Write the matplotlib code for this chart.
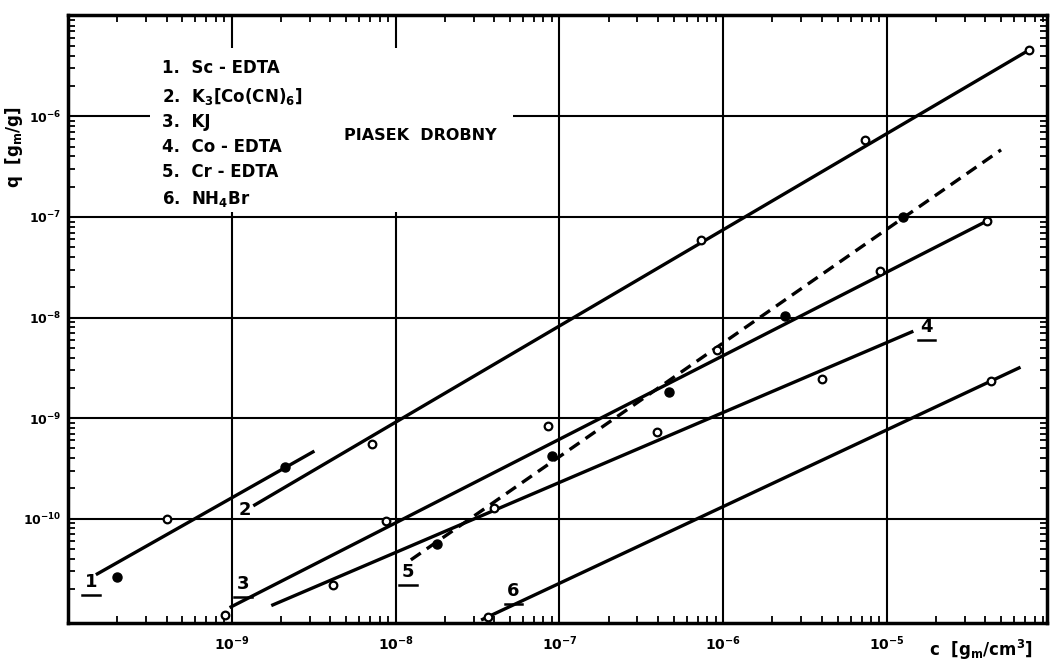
import matplotlib
matplotlib.use('Agg')
import matplotlib.pyplot as plt
from matplotlib.patches import Rectangle
from matplotlib.lines import Line2D

# fitted lines (end points), c in g/cm3, q in g/g
sc_line_c = [1.51e-10, 3.13e-9]
sc_line_q = [2.83e-11, 4.62e-10]
k3_line_c = [1.38e-9, 7.4e-5]
k3_line_q = [1.37e-10, 4.58e-6]
kj_line_c = [9.9e-10, 4.09e-5]
kj_line_q = [1.33e-11, 9.14e-8]
co_line_c = [1.78e-9, 1.42e-5]
co_line_q = [1.39e-11, 7.21e-9]
cr_line_c = [1.24e-8, 4.98e-5]
cr_line_q = [3.9e-11, 4.65e-7]
nh_line_c = [3.4e-8, 6.41e-5]
nh_line_q = [1.0e-11, 3.16e-9]

# measured points
sc_c_filled = [1.98e-10, 2.11e-9]
sc_q_filled = [2.65e-11, 3.28e-10]
sc_c_open = [4.0e-10]
sc_q_open = [1.0e-10]
k3_c = [7.18e-9, 7.28e-7, 7.33e-6, 7.4e-5]
k3_q = [5.55e-10, 5.92e-8, 5.83e-7, 4.58e-6]
kj_c = [9.06e-10, 8.75e-9, 8.57e-8, 9.12e-7, 9.06e-6, 4.09e-5]
kj_q = [1.11e-11, 9.5e-11, 8.38e-10, 4.78e-9, 2.91e-8, 9.14e-8]
co_c = [4.15e-9, 4.0e-8, 3.97e-7, 4.0e-6]
co_q = [2.2e-11, 1.29e-10, 7.31e-10, 2.46e-9]
cr_c = [1.79e-8, 9.06e-8, 4.65e-7, 2.38e-6, 1.25e-5]
cr_q = [5.62e-11, 4.22e-10, 1.82e-9, 1.04e-8, 1.0e-7]
nh_c = [3.68e-8, 4.32e-5]
nh_q = [1.06e-11, 2.35e-9]

legend_items = ['1.  Sc - EDTA', '2.  K$_3$[Co(CN)$_6$]', '3.  KJ',
                '4.  Co - EDTA', '5.  Cr - EDTA', '6.  NH$_4$Br']
line_numbers = ['1', '2', '3', '4', '5', '6']
x_ticks = [1e-9, 1e-8, 1e-7, 1e-6, 1e-5]
x_ticklabels = ['$10^{-9}$', '$10^{-8}$', '$10^{-7}$', '$10^{-6}$', '$10^{-5}$']
y_ticks = [1e-10, 1e-9, 1e-8, 1e-7, 1e-6]
y_ticklabels = ['$10^{-10}$', '$10^{-9}$', '$10^{-8}$', '$10^{-7}$', '$10^{-6}$']

plt.rcParams['font.family'] = ['DejaVu Sans']
plt.rcParams['font.weight'] = 'bold'
plt.rcParams['mathtext.default'] = 'bf'

fig = plt.figure(figsize=(10.53, 6.65), dpi=100)
ax = fig.add_axes([0.0646, 0.0632, 0.9297, 0.9143])
ax.set_xscale('log')
ax.set_yscale('log')
ax.set_xlim(1e-10, 9.5e-5)
ax.set_ylim(9.2e-12, 1.02e-5)

ax.set_xticks(x_ticks)
ax.set_xticklabels(x_ticklabels, fontsize=10)
ax.set_yticks(y_ticks)
ax.set_yticklabels(y_ticklabels, fontsize=9)
ax.grid(True, which='major', color='black', lw=1.5)
ax.set_axisbelow(True)
ax.tick_params(which='major', length=0, pad=8)
ax.tick_params(axis='y', which='major', pad=5)
ax.tick_params(which='minor', direction='in', length=5, width=1.3,
               top=True, right=True)
ax.tick_params(axis='y', which='minor', labelleft=False)
ax.tick_params(axis='x', which='minor', labelbottom=False)
for s in ax.spines.values():
    s.set_linewidth(2.5)

# white patch behind the legend text (grid is broken there)
ax.add_patch(Rectangle((0.084, 0.676), 0.371, 0.27, transform=ax.transAxes,
                       facecolor='white', edgecolor='none', zorder=1.5))

lw = 2.4
ax.plot(sc_line_c, sc_line_q, color='black', lw=lw, zorder=2)
ax.plot(k3_line_c, k3_line_q, color='black', lw=lw, zorder=2)
ax.plot(kj_line_c, kj_line_q, color='black', lw=lw, zorder=2)
ax.plot(co_line_c, co_line_q, color='black', lw=lw, zorder=2)
ax.plot(cr_line_c, cr_line_q, color='black', lw=lw, dashes=(3.6, 2.2), zorder=2)
ax.plot(nh_line_c, nh_line_q, color='black', lw=lw, zorder=2)

open_kw = dict(ls='none', marker='o', ms=5.5, mfc='white', mec='black',
               mew=1.6, zorder=3)
fill_kw = dict(ls='none', marker='o', ms=6.5, mfc='black', mec='black',
               zorder=3)
ax.plot(sc_c_filled, sc_q_filled, **fill_kw)
ax.plot(sc_c_open, sc_q_open, **open_kw)
ax.plot(k3_c, k3_q, **open_kw)
ax.plot(kj_c, kj_q, **open_kw)
ax.plot(co_c, co_q, **open_kw)
ax.plot(cr_c, cr_q, **fill_kw)
ax.plot(nh_c, nh_q, **open_kw)

# legend block
leg_y = [0.913, 0.866, 0.824, 0.783, 0.742, 0.698]
for txt, yy in zip(legend_items, leg_y):
    ax.text(0.096, yy, txt, transform=ax.transAxes, fontsize=12,
            ha='left', va='center', zorder=4)
ax.text(0.36, 0.801, 'PIASEK  DROBNY', transform=ax.transAxes, fontsize=11.5,
        ha='center', va='center', zorder=4)

# curve numbers next to the lines
num_pos = [(0.0235, 0.067), (0.181, 0.186), (0.179, 0.064),
           (0.877, 0.487), (0.347, 0.084), (0.455, 0.053)]
underlined = [True, False, True, True, True, True]
for lab, (fx, fy), ul in zip(line_numbers, num_pos, underlined):
    ax.text(fx, fy, lab, transform=ax.transAxes, fontsize=13,
            ha='center', va='center', zorder=4)
    if ul:
        ax.add_line(Line2D([fx - 0.009, fx + 0.009], [fy - 0.021, fy - 0.021],
                           transform=ax.transAxes, color='black', lw=1.8,
                           zorder=4))

fig.text(0.013, 0.779, 'q  [$g_m$/g]', rotation=90, fontsize=12,
         ha='center', va='center')
fig.text(0.932, 0.022, 'c  [$g_m$/cm$^3$]', fontsize=12,
         ha='center', va='center')

fig.savefig('out.png', dpi=100)
